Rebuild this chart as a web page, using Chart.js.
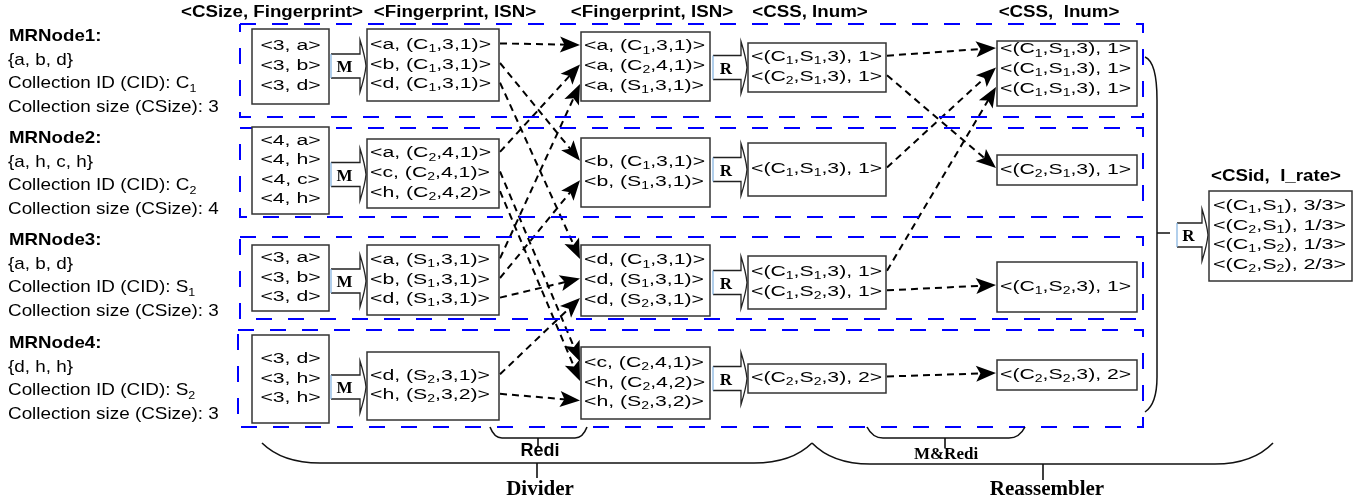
<!DOCTYPE html>
<html lang="en">
<head>
  <meta charset="UTF-8" />
  <title>Divider / Reassembler</title>
  <style>
    body { margin: 0; background: #fff; overflow: hidden; }
    #wrap { width: 1369px; height: 500px; }
  </style>
</head>
<body>
  <div id="wrap"><canvas id="flow" width="1369" height="500"></canvas></div>

  <script src="https://cdn.jsdelivr.net/npm/chart.js"></script>
  <script>
    // ---- content ----
    const headers = ['<CSize, Fingerprint>', '<Fingerprint, ISN>', '<Fingerprint, ISN>', '<CSS, Inum>', '<CSS,  Inum>'];

    const nodeTitles = ['MRNode1:', 'MRNode2:', 'MRNode3:', 'MRNode4:'];
    const nodeSets = ['{a, b, d}', '{a, h, c, h}', '{a, b, d}', '{d, h, h}'];
    const nodeCids = ['C₁', 'C₂', 'S₁', 'S₂'];
    const nodeSizes = [3, 4, 3, 3];

    const csizeFingerprint = [
      ['<3, a>', '<3, b>', '<3, d>'],
      ['<4, a>', '<4, h>', '<4, c>', '<4, h>'],
      ['<3, a>', '<3, b>', '<3, d>'],
      ['<3, d>', '<3, h>', '<3, h>']
    ];
    const mapOutput = [
      ['<a, (C₁,3,1)>', '<b, (C₁,3,1)>', '<d, (C₁,3,1)>'],
      ['<a, (C₂,4,1)>', '<c, (C₂,4,1)>', '<h, (C₂,4,2)>'],
      ['<a, (S₁,3,1)>', '<b, (S₁,3,1)>', '<d, (S₁,3,1)>'],
      ['<d, (S₂,3,1)>', '<h, (S₂,3,2)>']
    ];
    const reduceInput = [
      ['<a, (C₁,3,1)>', '<a, (C₂,4,1)>', '<a, (S₁,3,1)>'],
      ['<b, (C₁,3,1)>', '<b, (S₁,3,1)>'],
      ['<d, (C₁,3,1)>', '<d, (S₁,3,1)>', '<d, (S₂,3,1)>'],
      ['<c, (C₂,4,1)>', '<h, (C₂,4,2)>', '<h, (S₂,3,2)>']
    ];
    const reduceOutput = [
      ['<(C₁,S₁,3), 1>', '<(C₂,S₁,3), 1>'],
      ['<(C₁,S₁,3), 1>'],
      ['<(C₁,S₁,3), 1>', '<(C₁,S₂,3), 1>'],
      ['<(C₂,S₂,3), 2>']
    ];
    const reassembled = [
      ['<(C₁,S₁,3), 1>', '<(C₁,S₁,3), 1>', '<(C₁,S₁,3), 1>'],
      ['<(C₂,S₁,3), 1>'],
      ['<(C₁,S₂,3), 1>'],
      ['<(C₂,S₂,3), 2>']
    ];
    const finalTitle = '<CSid,  I_rate>';
    const finalRates = ['<(C₁,S₁), 3/3>', '<(C₂,S₁), 1/3>', '<(C₁,S₂), 1/3>', '<(C₂,S₂), 2/3>'];

    // links: [fromNode, fromLine, toNode, toLine]
    const rediLinks = [
      [0, 0, 0, 0], [0, 1, 1, 0], [0, 2, 2, 0],
      [1, 0, 0, 1], [1, 1, 3, 0], [1, 2, 3, 1],
      [2, 0, 0, 2], [2, 1, 1, 1], [2, 2, 2, 1],
      [3, 0, 2, 2], [3, 1, 3, 2]
    ];
    const mrediLinks = [
      [0, 0, 0, 0], [0, 1, 1, 0],
      [1, 0, 0, 1],
      [2, 0, 0, 2], [2, 1, 2, 0],
      [3, 0, 3, 0]
    ];
    const stepLabels = ['M', 'R'];
    const braceLabels = ['Redi', 'M&Redi', 'Divider', 'Reassembler'];

    // ---- layout (pixel units of the 1369x500 canvas) ----
    const columns = [csizeFingerprint, mapOutput, reduceInput, reduceOutput, reassembled];
    const colLeft = [252, 367, 581, 748, 997];
    const colRight = [329, 499, 710, 886, 1137];
    const boxRows = [
      [[29, 104], [127, 214], [245, 311], [335, 423]],
      [[29, 101], [139, 208], [245, 315], [352, 420]],
      [[32, 101], [138, 207], [245, 316], [347, 419]],
      [[43, 92], [143, 196], [256, 309], [364, 393]],
      [[41, 106, -4], [155, 185], [262, 312], [360, 390]]
    ];
    const headerX = [272, 455, 652, 810, 1059];
    const bands = [[240, 24, 1143, 117], [240, 128, 1143, 217], [240, 237, 1143, 319], [238, 330, 1143, 427]];
    const nodeTextTop = [35, 137, 239, 342];
    const LINE = 19.6;
    const SUBS = '₁₂';
    const SANS = '"Liberation Sans", Arial, sans-serif';
    const SERIF = '"Liberation Serif", "Times New Roman", serif';

    function lineY(col, node, i) {
      const [t, b, dy] = boxRows[col][node];
      const n = columns[col][node].length;
      return (t + b) / 2 - 2 + (dy || 0) + (i - (n - 1) / 2) * LINE;
    }

    function linkSegments(links, c0, c1) {
      return links.map(([fn, fl, tn, tl]) => {
        const x0 = colRight[c0] + 1, y0 = lineY(c0, fn, fl);
        const x1 = colLeft[c1] - 1, y1 = lineY(c1, tn, tl);
        const len = Math.hypot(x1 - x0, y1 - y0);
        const k = (len - 14) / len;
        return { tip: [x1, y1], from: [x0, y0], end: [x0 + (x1 - x0) * k, y0 + (y1 - y0) * k] };
      });
    }
    const arrows = linkSegments(rediLinks, 1, 2).concat(linkSegments(mrediLinks, 3, 4));

    const bandSets = bands.map(([l, t, r, b]) => ({
      data: [{ x: l, y: t }, { x: r, y: t }, { x: r, y: b }, { x: l, y: b }, { x: l, y: t }],
      showLine: true, borderColor: '#0000ff', borderWidth: 2, borderDash: [16, 16],
      pointRadius: 0, fill: false
    }));
    const arrowSets = arrows.map(a => ({
      data: [{ x: a.from[0], y: a.from[1] }, { x: a.end[0], y: a.end[1] }],
      showLine: true, borderColor: '#000', borderWidth: 2, borderDash: [7, 5],
      pointRadius: 0, fill: false
    }));

    function richText(ctx, str, x, y, size, stretch, align, family, weight) {
      const runs = [];
      for (const ch of str) {
        const s = SUBS.indexOf(ch);
        const sub = s >= 0;
        const c = sub ? String(s + 1) : ch;
        const last = runs[runs.length - 1];
        if (last && last.sub === sub) last.t += c; else runs.push({ t: c, sub });
      }
      const font = sub => `${weight} ${sub ? size * 0.66 : size}px ${family}`;
      let w = 0;
      runs.forEach(r => { ctx.font = font(r.sub); r.w = ctx.measureText(r.t).width; w += r.w; });
      let cx = align === 'center' ? -w / 2 : 0;
      ctx.save();
      ctx.translate(x, y + size * 0.36);
      ctx.scale(stretch, 1);
      ctx.textAlign = 'left';
      ctx.textBaseline = 'alphabetic';
      ctx.fillStyle = '#000';
      runs.forEach(r => {
        ctx.font = font(r.sub);
        ctx.fillText(r.t, cx, r.sub ? size * 0.2 : 0);
        cx += r.w;
      });
      ctx.restore();
    }

    const diagram = {
      id: 'diagram',
      afterDatasetsDraw(chart) {
        const ctx = chart.ctx;
        const X = v => chart.scales.x.getPixelForValue(v);
        const Y = v => chart.scales.y.getPixelForValue(v);

        // headers
        headers.forEach((h, i) => richText(ctx, h, X(headerX[i]), Y(11), 16, 1.17, 'center', SANS, 'bold'));
        richText(ctx, finalTitle, X(1276), Y(175), 16, 1.17, 'center', SANS, 'bold');

        // node descriptions
        nodeTitles.forEach((t, i) => {
          const y0 = nodeTextTop[i];
          richText(ctx, t, X(9), Y(y0), 17, 1.1, 'left', SANS, 'bold');
          richText(ctx, nodeSets[i], X(8), Y(y0 + 23.5), 17, 1.11, 'left', SANS, 'normal');
          richText(ctx, 'Collection ID (CID): ' + nodeCids[i], X(8), Y(y0 + 47), 17, 1.11, 'left', SANS, 'normal');
          richText(ctx, 'Collection size (CSize): ' + nodeSizes[i], X(8), Y(y0 + 70.5), 17, 1.11, 'left', SANS, 'normal');
        });

        function box(l, t, r, b) {
          ctx.fillStyle = '#fff';
          ctx.fillRect(X(l), Y(t), X(r) - X(l), Y(b) - Y(t));
          ctx.strokeStyle = '#333';
          ctx.lineWidth = 1.5;
          ctx.setLineDash([]);
          ctx.strokeRect(X(l), Y(t), X(r) - X(l), Y(b) - Y(t));
        }

        // column boxes
        columns.forEach((col, c) => {
          col.forEach((lines, n) => {
            const [t, b] = boxRows[c][n];
            box(colLeft[c], t, colRight[c], b);
            lines.forEach((s, i) => {
              if (c === 0) richText(ctx, s, X((colLeft[c] + colRight[c]) / 2), Y(lineY(c, n, i)), 15.5, 1.37, 'center', SANS, 'normal');
              else richText(ctx, s, X(colLeft[c] + 3), Y(lineY(c, n, i)), 15.5, 1.37, 'left', SANS, 'normal');
            });
          });
        });

        function blockArrow(x0, x1, cy, label) {
          const xh = x1 - 6, bh = 12, hh = 26;
          ctx.setLineDash([]);
          ctx.beginPath();
          ctx.moveTo(X(x0), Y(cy - bh));
          ctx.lineTo(X(xh), Y(cy - bh));
          ctx.lineTo(X(xh), Y(cy - hh));
          ctx.quadraticCurveTo(X(x1 - 1), Y(cy - 10), X(x1), Y(cy));
          ctx.quadraticCurveTo(X(x1 - 1), Y(cy + 10), X(xh), Y(cy + hh));
          ctx.lineTo(X(xh), Y(cy + bh));
          ctx.lineTo(X(x0), Y(cy + bh));
          ctx.fillStyle = '#fff';
          ctx.fill();
          ctx.strokeStyle = '#222';
          ctx.lineWidth = 1.3;
          ctx.stroke();
          ctx.beginPath();
          ctx.moveTo(X(x0), Y(cy - bh));
          ctx.lineTo(X(x0), Y(cy + bh));
          ctx.strokeStyle = '#7fb0e0';
          ctx.lineWidth = 1.2;
          ctx.stroke();
          richText(ctx, label, X((x0 + xh) / 2 - 1), Y(cy), 17, 1, 'center', SERIF, 'bold');
        }

        for (let n = 0; n < 4; n++) {
          const c1 = boxRows[1][n], c3 = boxRows[3][n];
          blockArrow(colRight[0] + 2, colLeft[1] - 1, (c1[0] + c1[1]) / 2 + 1, stepLabels[0]);
          blockArrow(colRight[2] + 3, colLeft[3] - 1, (c3[0] + c3[1]) / 2, stepLabels[1]);
        }

        // arrow heads
        ctx.fillStyle = '#000';
        arrows.forEach(a => {
          const [tx, ty] = a.tip, [fx, fy] = a.from;
          const len = Math.hypot(tx - fx, ty - fy);
          const ux = (tx - fx) / len, uy = (ty - fy) / len;
          const L = 20, W = 8;
          const bx = tx - ux * L, by = ty - uy * L;
          ctx.beginPath();
          ctx.moveTo(X(tx), Y(ty));
          ctx.lineTo(X(bx - uy * W), Y(by + ux * W));
          ctx.lineTo(X(tx - ux * L * 0.78), Y(ty - uy * L * 0.78));
          ctx.lineTo(X(bx + uy * W), Y(by - ux * W));
          ctx.closePath();
          ctx.fill();
        });

        // joining bracket and final reduce
        ctx.strokeStyle = '#111';
        ctx.lineWidth = 1.5;
        ctx.setLineDash([]);
        ctx.beginPath();
        ctx.moveTo(X(1145), Y(57));
        ctx.quadraticCurveTo(X(1157), Y(62), X(1157), Y(100));
        ctx.lineTo(X(1157), Y(377));
        ctx.quadraticCurveTo(X(1157), Y(404), X(1145), Y(412));
        ctx.moveTo(X(1157), Y(233));
        ctx.lineTo(X(1170), Y(233));
        ctx.stroke();

        blockArrow(1177, 1208, 235, stepLabels[1]);
        box(1209, 191, 1352, 281);
        finalRates.forEach((s, i) => richText(ctx, s, X(1213), Y(204.5 + i * 19.6), 15.5, 1.39, 'left', SANS, 'normal'));

        // braces
        function brace(x0, x1, yTop, yLine, r, tick, tickEnd) {
          ctx.strokeStyle = '#111';
          ctx.lineWidth = 1.6;
          ctx.beginPath();
          ctx.moveTo(X(x0), Y(yTop));
          ctx.quadraticCurveTo(X(x0 + r * 0.35), Y(yLine), X(x0 + r), Y(yLine));
          ctx.lineTo(X(x1 - r), Y(yLine));
          ctx.quadraticCurveTo(X(x1 - r * 0.35), Y(yLine), X(x1), Y(yTop));
          ctx.moveTo(X(tick), Y(yLine));
          ctx.lineTo(X(tick), Y(tickEnd));
          ctx.stroke();
        }
        brace(490, 587, 427, 438, 12, 538, 447);
        brace(867, 1025, 427, 438, 16, 945, 448);
        brace(262, 812, 443, 463, 58, 537, 478);
        brace(812, 1273, 443, 464, 58, 1043, 480);

        richText(ctx, braceLabels[0], X(540), Y(450), 18, 1, 'center', SANS, 'bold');
        richText(ctx, braceLabels[1], X(946), Y(453), 17, 1, 'center', SERIF, 'bold');
        richText(ctx, braceLabels[2], X(540), Y(487), 21, 1, 'center', SERIF, 'bold');
        richText(ctx, braceLabels[3], X(1047), Y(487), 21, 1, 'center', SERIF, 'bold');
      }
    };

    new Chart(document.getElementById('flow'), {
      type: 'scatter',
      data: { datasets: bandSets.concat(arrowSets) },
      options: {
        responsive: false,
        animation: false,
        events: [],
        layout: { padding: 0 },
        plugins: { legend: { display: false }, tooltip: { enabled: false } },
        scales: {
          x: { type: 'linear', min: 0, max: 1369, display: false },
          y: { type: 'linear', min: 0, max: 500, reverse: true, display: false }
        }
      },
      plugins: [diagram]
    });
  </script>
</body>
</html>
